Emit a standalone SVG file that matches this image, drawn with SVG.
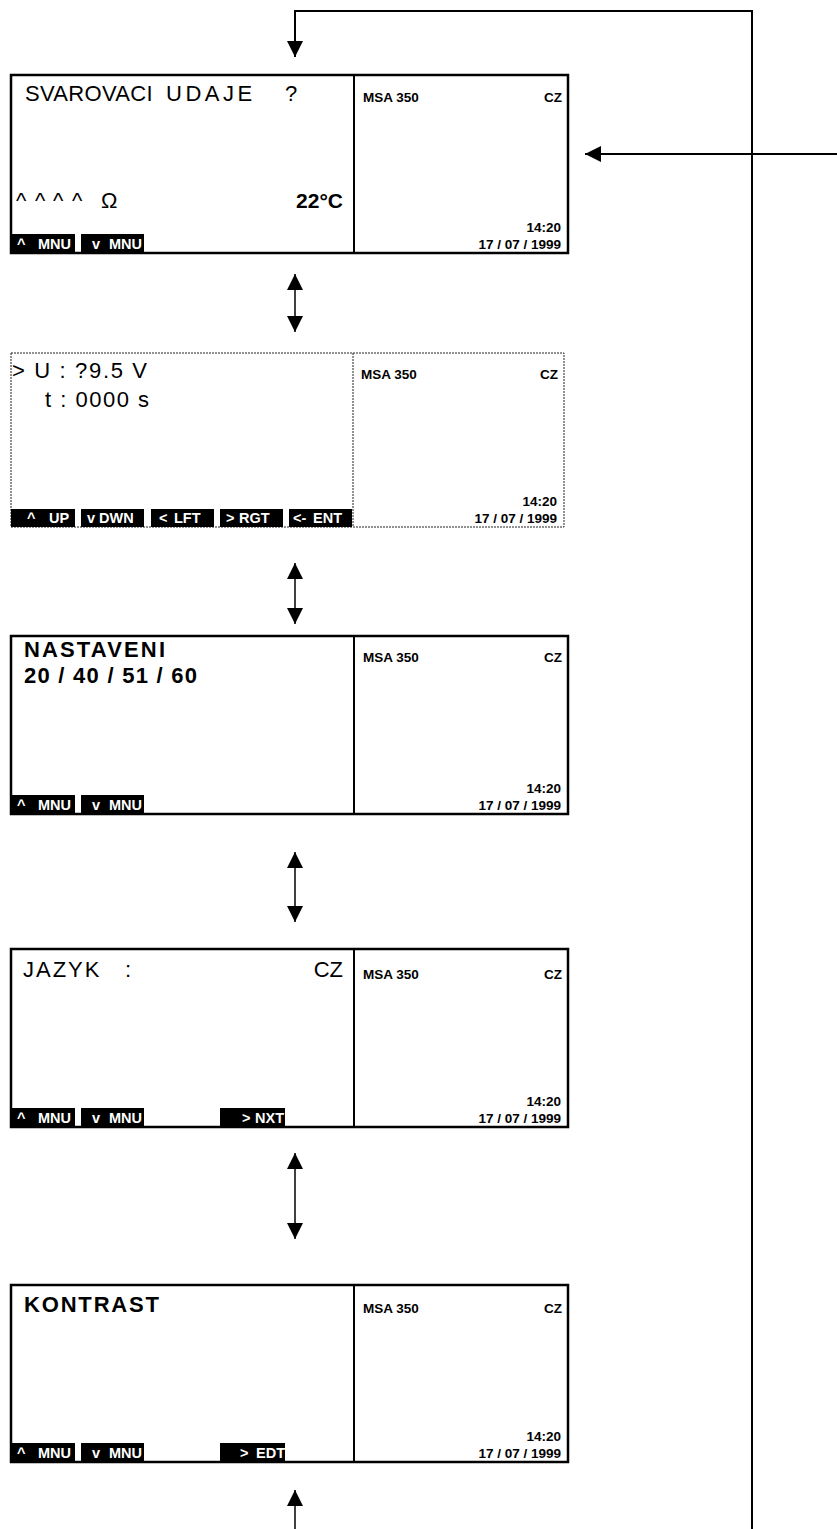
<svg xmlns="http://www.w3.org/2000/svg" width="837" height="1529" viewBox="0 0 837 1529">
<style>
.frame{fill:#fff;stroke:#000;stroke-width:2.5}
.dframe{fill:#fff;stroke:#222;stroke-width:1;stroke-dasharray:2 1}
.dv{stroke:#000;stroke-width:2}
.ddv{stroke:#222;stroke-width:1;stroke-dasharray:2 1}
.big{font-family:"Liberation Sans",Arial,sans-serif;font-size:22px;fill:#000}
.bigb{font-family:"Liberation Sans",Arial,sans-serif;font-size:22px;font-weight:bold;fill:#000}
.info{font-family:"Liberation Sans",Arial,sans-serif;font-size:13.5px;font-weight:bold;fill:#000}
.end{text-anchor:end}
.key{fill:#000}
.kt{font-family:"Liberation Sans Narrow","Liberation Sans",Arial,sans-serif;font-size:14.5px;font-weight:bold;fill:#fff}
.conn{stroke:#000;stroke-width:2;fill:none}
.dbl{stroke:#000;stroke-width:1.5;fill:none}
</style>
<defs>
<marker id="ah" viewBox="0 0 16 16" refX="16" refY="8" markerWidth="16" markerHeight="16" markerUnits="userSpaceOnUse" orient="auto-start-reverse">
<path d="M0,0 L16,8 L0,16 z" fill="#000"/>
</marker>
</defs>
<rect width="837" height="1529" fill="#fff"/>

<g id="connectors">
<path class="conn" d="M752,1529 V11 H295 V57" marker-end="url(#ah)"/>
<path class="conn" d="M837,154 H585" marker-end="url(#ah)"/>
<path class="dbl" d="M295,274 V332" marker-start="url(#ah)" marker-end="url(#ah)"/>
<path class="dbl" d="M295,563 V624" marker-start="url(#ah)" marker-end="url(#ah)"/>
<path class="dbl" d="M295,852 V922" marker-start="url(#ah)" marker-end="url(#ah)"/>
<path class="dbl" d="M295,1153 V1239" marker-start="url(#ah)" marker-end="url(#ah)"/>
<path class="dbl" d="M295,1529 V1490" marker-end="url(#ah)"/>
</g>

<g id="panel1" transform="translate(0,75)">
<rect class="frame" x="11" y="0" width="557" height="178"/>
<line class="dv" x1="354" y1="0" x2="354" y2="178"/>
<text class="big" y="26" xml:space="preserve"><tspan x="25" style="letter-spacing:0.3px">SVAROVACI  </tspan><tspan x="166" style="letter-spacing:3.5px">UDAJE  </tspan><tspan x="285">?</tspan></text>
<text class="big" y="133" xml:space="preserve"><tspan x="16">^ </tspan><tspan x="35">^ </tspan><tspan x="53">^ </tspan><tspan x="72">^   </tspan><tspan x="101">Ω</tspan></text>
<text class="bigb end" x="343" y="133" style="font-size:21px">22°C</text>
<rect class="key" x="11" y="159" width="64" height="19"/>
<rect class="key" x="81" y="159" width="63" height="19"/>
<text class="kt" y="174"><tspan x="17">^</tspan><tspan x="38">MNU</tspan></text>
<text class="kt" y="174"><tspan x="92">v</tspan><tspan x="109">MNU</tspan></text>
<text class="info" x="363" y="27">MSA 350</text>
<text class="info end" x="562" y="27">CZ</text>
<text class="info end" x="561" y="157">14:20</text>
<text class="info end" x="561" y="174">17 / 07 / 1999</text>
</g>

<g id="panel2" transform="translate(0,353)">
<rect class="dframe" x="11" y="0" width="553" height="174"/>
<line class="ddv" x1="353" y1="0" x2="353" y2="174"/>
<text class="big" x="12" y="25" xml:space="preserve" textLength="135" lengthAdjust="spacing">&gt; U : ?9.5 V</text>
<text class="big" x="45" y="54" xml:space="preserve" textLength="104" lengthAdjust="spacing">t : 0000 s</text>
<rect class="key" x="11" y="156" width="64" height="18"/>
<rect class="key" x="81" y="156" width="63" height="18"/>
<rect class="key" x="151" y="156" width="63" height="18"/>
<rect class="key" x="220" y="156" width="63" height="18"/>
<rect class="key" x="289" y="156" width="63" height="18"/>
<text class="kt" y="170"><tspan x="27">^</tspan><tspan x="49">UP</tspan></text>
<text class="kt" y="170"><tspan x="87">v</tspan><tspan x="99">DWN</tspan></text>
<text class="kt" y="170"><tspan x="159">&lt;</tspan><tspan x="174">LFT</tspan></text>
<text class="kt" y="170"><tspan x="226">&gt;</tspan><tspan x="239">RGT</tspan></text>
<text class="kt" y="170"><tspan x="293">&lt;-</tspan><tspan x="313">ENT</tspan></text>
<text class="info" x="361" y="26">MSA 350</text>
<text class="info end" x="558" y="26">CZ</text>
<text class="info end" x="557" y="153">14:20</text>
<text class="info end" x="557" y="170">17 / 07 / 1999</text>
</g>

<g id="panel3" transform="translate(0,636)">
<rect class="frame" x="11" y="0" width="557" height="178"/>
<line class="dv" x1="354" y1="0" x2="354" y2="178"/>
<text class="bigb" x="24" y="21" textLength="141" lengthAdjust="spacing">NASTAVENI</text>
<text class="bigb" x="24" y="47" textLength="173" lengthAdjust="spacing">20 / 40 / 51 / 60</text>
<rect class="key" x="11" y="159" width="64" height="19"/>
<rect class="key" x="81" y="159" width="63" height="19"/>
<text class="kt" y="174"><tspan x="17">^</tspan><tspan x="38">MNU</tspan></text>
<text class="kt" y="174"><tspan x="92">v</tspan><tspan x="109">MNU</tspan></text>
<text class="info" x="363" y="26">MSA 350</text>
<text class="info end" x="562" y="26">CZ</text>
<text class="info end" x="561" y="157">14:20</text>
<text class="info end" x="561" y="174">17 / 07 / 1999</text>
</g>

<g id="panel4" transform="translate(0,949)">
<rect class="frame" x="11" y="0" width="557" height="178"/>
<line class="dv" x1="354" y1="0" x2="354" y2="178"/>
<text class="big" y="28" xml:space="preserve"><tspan x="23" style="letter-spacing:2px">JAZYK   </tspan><tspan x="125">:</tspan></text>
<text class="big end" x="343" y="28">CZ</text>
<rect class="key" x="11" y="159" width="64" height="19"/>
<rect class="key" x="81" y="159" width="63" height="19"/>
<rect class="key" x="220" y="159" width="65" height="19"/>
<text class="kt" y="174"><tspan x="17">^</tspan><tspan x="38">MNU</tspan></text>
<text class="kt" y="174"><tspan x="92">v</tspan><tspan x="109">MNU</tspan></text>
<text class="kt" y="174"><tspan x="242">&gt;</tspan><tspan x="255">NXT</tspan></text>
<text class="info" x="363" y="30">MSA 350</text>
<text class="info end" x="562" y="30">CZ</text>
<text class="info end" x="561" y="157">14:20</text>
<text class="info end" x="561" y="174">17 / 07 / 1999</text>
</g>

<g id="panel5" transform="translate(0,1285)">
<rect class="frame" x="11" y="0" width="557" height="177"/>
<line class="dv" x1="354" y1="0" x2="354" y2="177"/>
<text class="bigb" x="24" y="27" textLength="135" lengthAdjust="spacing">KONTRAST</text>
<rect class="key" x="11" y="158" width="64" height="19"/>
<rect class="key" x="81" y="158" width="63" height="19"/>
<rect class="key" x="220" y="158" width="65" height="19"/>
<text class="kt" y="173"><tspan x="17">^</tspan><tspan x="38">MNU</tspan></text>
<text class="kt" y="173"><tspan x="92">v</tspan><tspan x="109">MNU</tspan></text>
<text class="kt" y="173"><tspan x="240">&gt;</tspan><tspan x="256">EDT</tspan></text>
<text class="info" x="363" y="28">MSA 350</text>
<text class="info end" x="562" y="28">CZ</text>
<text class="info end" x="561" y="156">14:20</text>
<text class="info end" x="561" y="173">17 / 07 / 1999</text>
</g>
</svg>
